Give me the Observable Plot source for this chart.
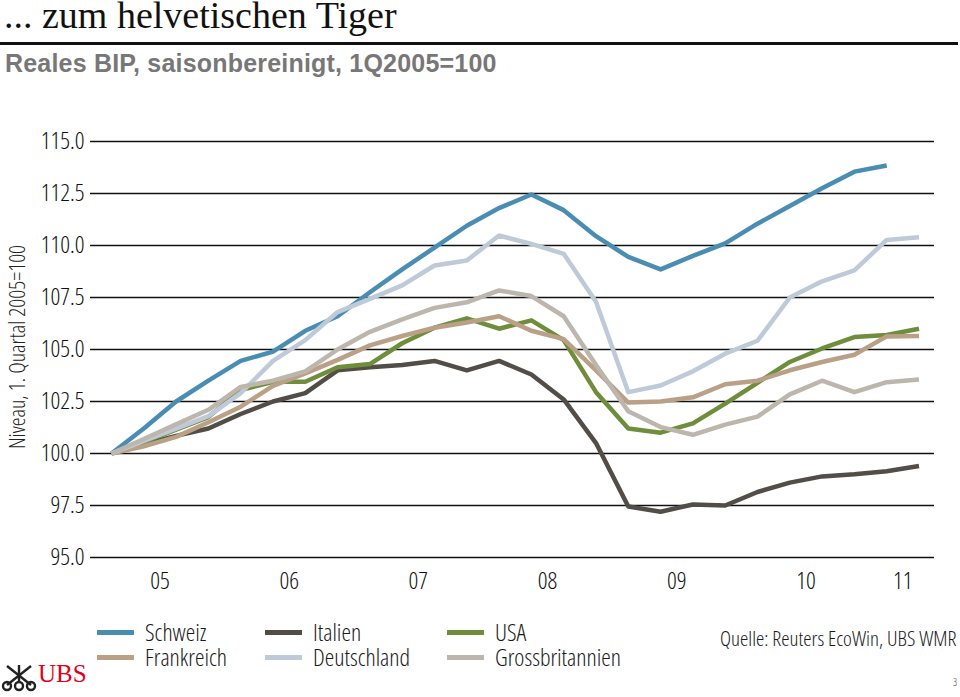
<!DOCTYPE html>
<html>
<head>
<meta charset="utf-8">
<script src="https://cdn.jsdelivr.net/npm/d3@7"></script>
<script src="https://cdn.jsdelivr.net/npm/@observablehq/plot@0.6"></script>
<style>
  html, body { margin: 0; padding: 0; background: #fff; }
  #page { position: relative; width: 960px; height: 697px; overflow: hidden; background: #fff;
          font-family: "Open Sans", "DejaVu Sans Condensed", sans-serif; font-stretch: 75%; font-weight: 300; color: #1a1a1a; }
  #title { position: absolute; left: 4px; top: 0px; line-height: 30px; font-family: "Liberation Serif", serif; font-stretch: normal; font-weight: normal; font-size: 38px; color: #111; white-space: nowrap; }
  #rule { position: absolute; left: 0; top: 42px; width: 958px; height: 3px; background: #111; }
  #subtitle { position: absolute; left: 5px; top: 49px; font-family: "Liberation Sans", sans-serif; font-stretch: normal; font-weight: bold; font-size: 25px; letter-spacing: 0.2px; color: #777; white-space: nowrap; }
  #ylabel { position: absolute; left: 16px; top: 347px; transform: translate(-50%, -50%) rotate(-90deg); font-size: 22px; line-height: 24px; white-space: nowrap; color: #222; }
  #chart { position: absolute; left: 0; top: 110px; }
  #chart svg text { font-family: "Open Sans", "DejaVu Sans Condensed", sans-serif; font-stretch: 75%; font-weight: 300; fill: #111; }
  .leg { position: absolute; font-size: 24px; line-height: 24px; white-space: nowrap; color: #1a1a1a; }
  .sw { position: absolute; width: 37px; height: 5px; }
  #source { position: absolute; left: 720px; top: 626px; font-size: 21px; line-height: 24px; white-space: nowrap; color: #1a1a1a; }
  #pnum { position: absolute; left: 953px; top: 675px; font-size: 10px; color: #333; }
  #ubs { position: absolute; left: 38px; top: 660px; font-family: "Liberation Serif", serif; font-stretch: normal; font-weight: normal; font-size: 25px; color: #e2001a; }
  #keys { position: absolute; left: 1px; top: 664px; }
</style>
</head>
<body>
<div id="page">
  <div id="title">... zum helvetischen Tiger</div>
  <div id="rule"></div>
  <div id="subtitle">Reales BIP, saisonbereinigt, 1Q2005=100</div>
  <div id="ylabel">Niveau, 1. Quartal 2005=100</div>
  <div id="chart"></div>
  <div id="legend"></div>
  <div id="source">Quelle: Reuters EcoWin, UBS WMR</div>
  <svg id="keys" width="36" height="28" viewBox="0 0 36 28">
    <g stroke="#222" stroke-width="2.4" fill="none">
      <line x1="6" y1="2" x2="30" y2="21"/><line x1="30" y1="2" x2="6" y2="21"/><line x1="18" y1="1" x2="18" y2="19"/>
      <circle cx="6" cy="22" r="4"/><circle cx="30" cy="22" r="4"/><circle cx="18" cy="22" r="4"/>
    </g>
  </svg>
  <div id="ubs">UBS</div>
  <div id="pnum">3</div>
</div>
<script>
// Quarters (index 0 = 1Q2005)
const quarters = ["1Q2005","2Q2005","3Q2005","4Q2005","1Q2006","2Q2006","3Q2006","4Q2006",
  "1Q2007","2Q2007","3Q2007","4Q2007","1Q2008","2Q2008","3Q2008","4Q2008",
  "1Q2009","2Q2009","3Q2009","4Q2009","1Q2010","2Q2010","3Q2010","4Q2010",
  "1Q2011","2Q2011"];
const yearLabels = ["05","06","07","08","09","10","11"];
const yTicks = [95, 97.5, 100, 102.5, 105, 107.5, 110, 112.5, 115];

const countries = ["Schweiz","Italien","USA","Frankreich","Deutschland","Grossbritannien"];
const colors = ["#4a8db3","#524d46","#6f8e3c","#baa087","#bfcad8","#bdb6ad"];

const schweiz = [100, 101.2, 102.5, 103.5, 104.45, 104.9, 105.9, 106.6, 107.75, 108.85, 109.9, 110.95, 111.8, 112.45, 111.7, 110.45, 109.45, 108.85, 109.5, 110.1, 111.05, 111.9, 112.75, 113.55, 113.85];
const italien = [100, 100.45, 100.85, 101.2, 101.9, 102.5, 102.9, 104.0, 104.15, 104.25, 104.45, 104.0, 104.45, 103.8, 102.6, 100.5, 97.45, 97.2, 97.55, 97.5, 98.15, 98.6, 98.9, 99.0, 99.15, 99.4];
const usa = [100, 100.55, 101.15, 101.75, 103.05, 103.45, 103.45, 104.15, 104.3, 105.3, 106.05, 106.5, 106.0, 106.4, 105.45, 102.95, 101.2, 101.0, 101.45, 102.4, 103.4, 104.4, 105.05, 105.6, 105.7, 106.0];
const frankreich = [100, 100.35, 100.8, 101.5, 102.25, 103.25, 103.85, 104.5, 105.2, 105.65, 106.05, 106.3, 106.6, 105.9, 105.5, 104.0, 102.45, 102.5, 102.7, 103.33, 103.5, 104.0, 104.4, 104.75, 105.63, 105.65];
const deutschland = [100, 100.6, 101.2, 101.8, 102.9, 104.45, 105.45, 106.8, 107.43, 108.08, 109.04, 109.28, 110.48, 110.08, 109.6, 107.3, 102.95, 103.27, 103.95, 104.8, 105.42, 107.5, 108.28, 108.8, 110.27, 110.4];
const grossbritannien = [100, 100.7, 101.4, 102.1, 103.2, 103.5, 103.95, 105.0, 105.85, 106.45, 107.0, 107.27, 107.84, 107.57, 106.6, 104.25, 102.03, 101.27, 100.9, 101.39, 101.77, 102.84, 103.5, 102.95, 103.43, 103.56];

const seriesValues = [schweiz, italien, usa, frankreich, deutschland, grossbritannien];

const rows = [];
countries.forEach((c, k) => {
  seriesValues[k].forEach((v, i) => rows.push({country: c, q: i, quarter: quarters[i], value: v}));
});

// Year label positions: centre of the quarters of each year
const yearPos = yearLabels.map(y => {
  const idx = quarters.map((q, i) => [q, i]).filter(([q]) => q.slice(-2) === y).map(([, i]) => i);
  return d3.mean(idx);
});
const labelAt = new Map(yearPos.map((p, k) => [p, yearLabels[k]]));

const chart = Plot.plot({
  width: 960,
  height: 490,
  marginLeft: 90,
  marginRight: 26,
  marginTop: 31,
  marginBottom: 43,
  style: {fontSize: "24px", color: "#111", background: "transparent"},
  x: {domain: [-0.65, 25.48], ticks: yearPos, tickFormat: d => labelAt.get(d), tickSize: 0, tickPadding: 14, label: null},
  y: {domain: [95, 115], ticks: yTicks, tickFormat: d => d.toFixed(1), tickSize: 0, tickPadding: 6, label: null},
  color: {domain: countries, range: colors},
  marks: [
    Plot.ruleY(yTicks, {stroke: "#111", strokeWidth: 1.6}),
    Plot.line(rows, {x: "q", y: "value", z: "country", stroke: "country", strokeWidth: 4.5, strokeLinejoin: "round", strokeLinecap: "butt"})
  ]
});
document.getElementById("chart").appendChild(chart);

// Legend (HTML)
const legendItems = [
  {name: "Schweiz", left: 97, top: 632},
  {name: "Frankreich", left: 97, top: 657},
  {name: "Italien", left: 265, top: 632},
  {name: "Deutschland", left: 265, top: 657},
  {name: "USA", left: 447, top: 632},
  {name: "Grossbritannien", left: 447, top: 657}
];
const legend = document.getElementById("legend");
legendItems.forEach(it => {
  const sw = document.createElement("div");
  sw.className = "sw";
  sw.style.left = it.left + "px";
  sw.style.top = (it.top - 2.5) + "px";
  sw.style.background = colors[countries.indexOf(it.name)];
  legend.appendChild(sw);
  const t = document.createElement("div");
  t.className = "leg";
  t.textContent = it.name;
  t.style.left = (it.left + 48) + "px";
  t.style.top = (it.top - 12) + "px";
  legend.appendChild(t);
});
</script>
</body>
</html>
